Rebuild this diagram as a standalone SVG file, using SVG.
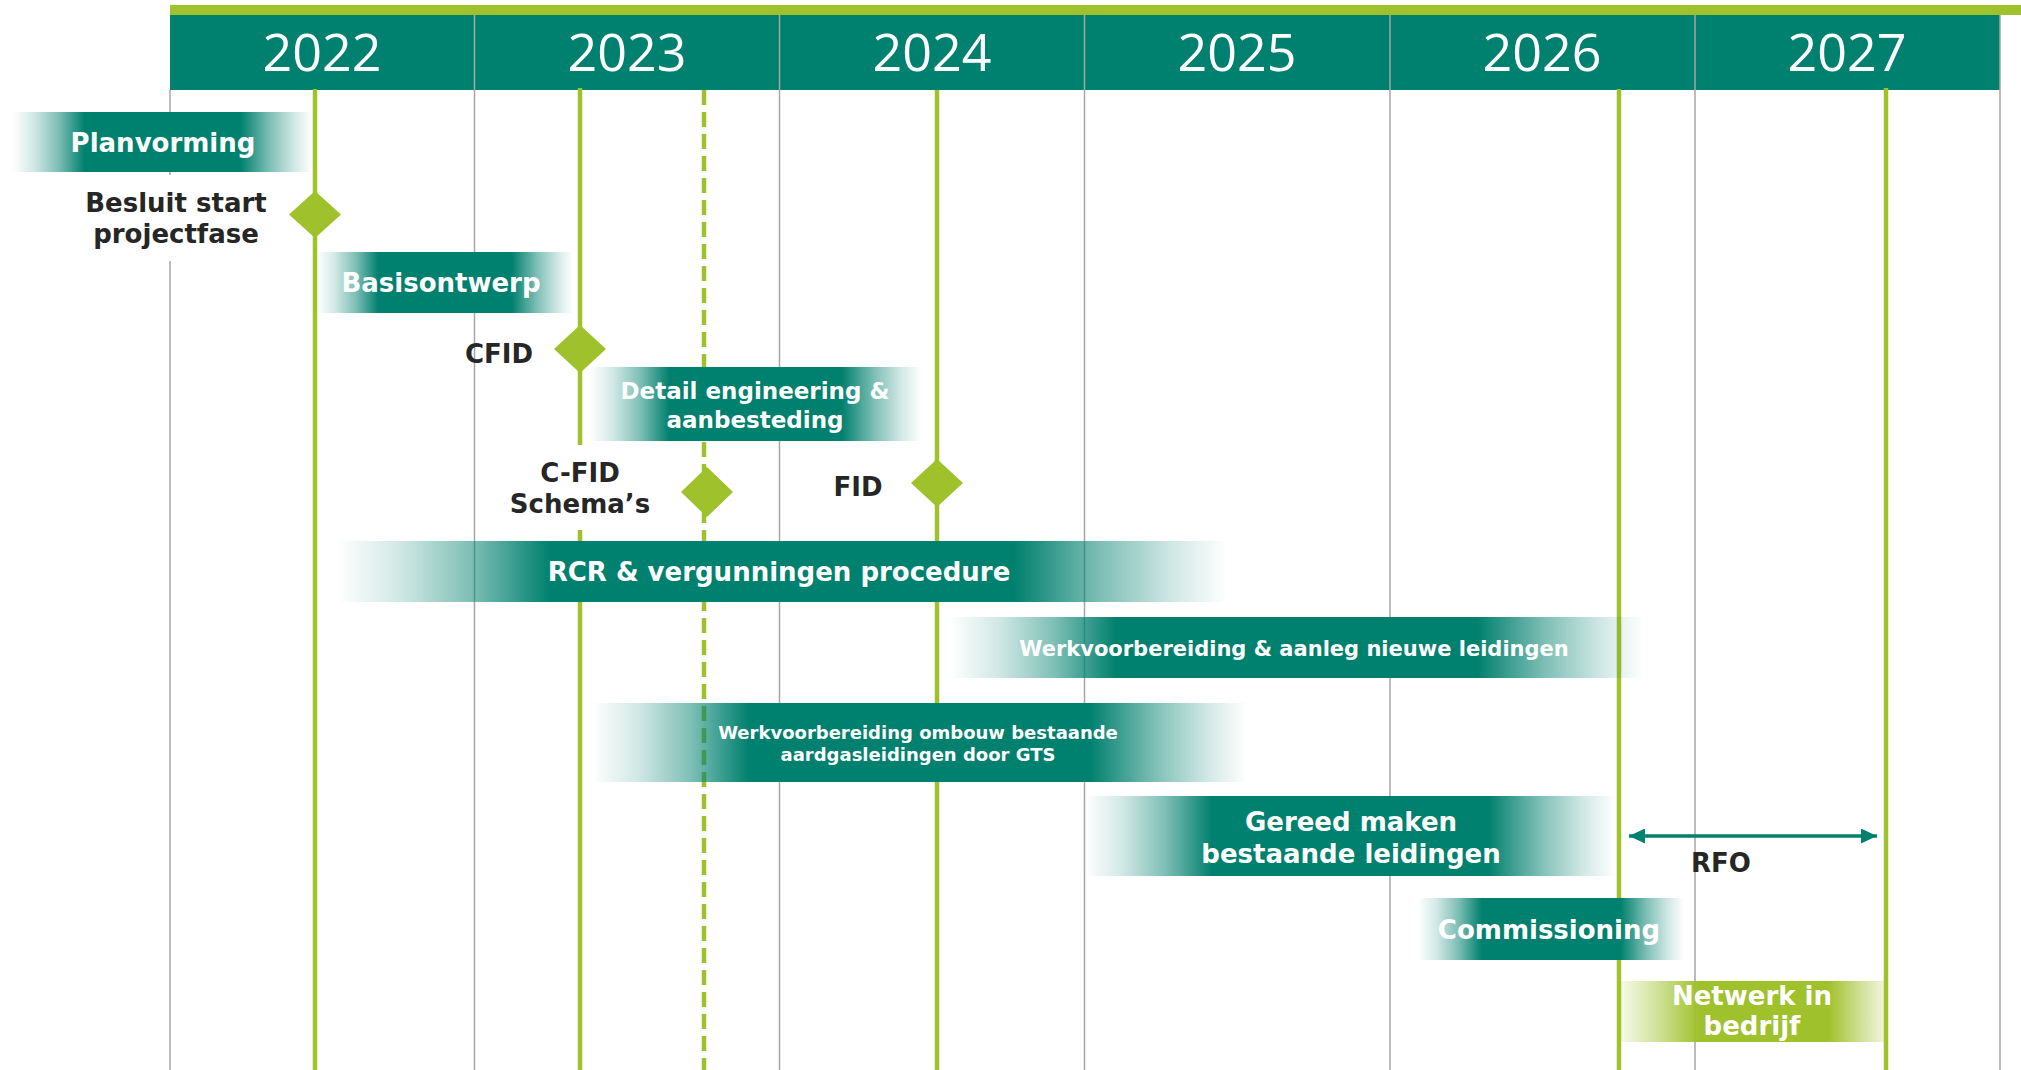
<svg xmlns="http://www.w3.org/2000/svg" width="2021" height="1070" viewBox="0 0 2021 1070">
<style>
.grid{stroke:#A6A6A6;stroke-width:1.5}
.ms{stroke:#9FC12B;stroke-width:4.5}
.dash{stroke-dasharray:15 7}
.year{font-family:"Open Sans","Noto Sans",sans-serif;font-size:52px;fill:#fff;text-anchor:middle}
.lbl{font-family:"DejaVu Sans","Verdana",sans-serif;font-weight:bold;font-size:26px;fill:#262626;text-anchor:middle}
.bt{font-family:"DejaVu Sans","Verdana",sans-serif;font-weight:bold;font-size:26px;fill:#fff;text-anchor:middle}
.dia{fill:#9FC12B}
.bar{fill:url(#tealFade)}
</style>
<defs>
<linearGradient id="tealFade" x1="0" y1="0" x2="1" y2="0">
<stop offset="0" stop-color="#00806E" stop-opacity="0"/>
<stop offset="0.07" stop-color="#00806E" stop-opacity="0.18"/>
<stop offset="0.15" stop-color="#00806E" stop-opacity="0.5"/>
<stop offset="0.24" stop-color="#00806E" stop-opacity="1"/>
<stop offset="0.76" stop-color="#00806E" stop-opacity="1"/>
<stop offset="0.86" stop-color="#00806E" stop-opacity="0.5"/>
<stop offset="0.94" stop-color="#00806E" stop-opacity="0.18"/>
<stop offset="1" stop-color="#00806E" stop-opacity="0"/>
</linearGradient>
<linearGradient id="greenFade" x1="0" y1="0" x2="1" y2="0">
<stop offset="0" stop-color="#9FC12B" stop-opacity="0.08"/>
<stop offset="0.15" stop-color="#9FC12B" stop-opacity="0.5"/>
<stop offset="0.3" stop-color="#9FC12B" stop-opacity="1"/>
<stop offset="0.78" stop-color="#9FC12B" stop-opacity="1"/>
<stop offset="0.9" stop-color="#9FC12B" stop-opacity="0.5"/>
<stop offset="1" stop-color="#9FC12B" stop-opacity="0.12"/>
</linearGradient>
<marker id="ah" viewBox="0 0 16 15" refX="16" refY="7.5" markerWidth="16" markerHeight="15" markerUnits="userSpaceOnUse" orient="auto-start-reverse">
<path d="M0,0 L16,7.5 L0,15 z" fill="#00806E"/>
</marker>
</defs>
<rect width="2021" height="1070" fill="#fff"/>

<g id="header">
<rect x="170" y="5" width="1851" height="10" fill="#9FC12B"/>
<rect x="170" y="15" width="1830" height="75" fill="#00806E"/>
<text class="year" x="322" y="71">2022</text>
<text class="year" x="627" y="71">2023</text>
<text class="year" x="932" y="71">2024</text>
<text class="year" x="1237" y="71">2025</text>
<text class="year" x="1542" y="71">2026</text>
<text class="year" x="1847" y="71">2027</text>
</g>

<g id="gridlines">
<line class="grid" x1="170" y1="90" x2="170" y2="1070"/>
<line class="grid" x1="474.5" y1="15" x2="474.5" y2="1070"/>
<line class="grid" x1="779.5" y1="15" x2="779.5" y2="1070"/>
<line class="grid" x1="1084.5" y1="15" x2="1084.5" y2="1070"/>
<line class="grid" x1="1390" y1="15" x2="1390" y2="1070"/>
<line class="grid" x1="1695" y1="15" x2="1695" y2="1070"/>
<line class="grid" x1="2000" y1="15" x2="2000" y2="1070"/>
</g>

<g id="milestone-lines">
<line class="ms" x1="315" y1="89" x2="315" y2="1070"/>
<line class="ms" x1="580" y1="88" x2="580" y2="1070"/>
<line class="ms dash" x1="704" y1="90" x2="704" y2="1070"/>
<line class="ms" x1="937" y1="90" x2="937" y2="1070"/>
<line class="ms" x1="1619" y1="89" x2="1619" y2="1070"/>
<line class="ms" x1="1886" y1="88" x2="1886" y2="1070"/>
</g>

<g id="label-backgrounds" fill="#fff">
<rect x="80" y="175" width="195" height="86"/>
<rect x="505" y="445" width="150" height="85"/>
</g>

<g id="planvorming">
<rect class="bar" x="13" y="112" width="299" height="60"/>
<text class="bt" x="163" y="152">Planvorming</text>
</g>
<g id="basisontwerp">
<rect class="bar" x="317" y="252" width="256" height="61"/>
<text class="bt" x="441" y="292">Basisontwerp</text>
</g>
<g id="detail-engineering">
<rect class="bar" x="590" y="367" width="331" height="74"/>
<text class="bt" style="font-size:23px" x="755" y="399">Detail engineering &amp;</text>
<text class="bt" style="font-size:23px" x="755" y="428">aanbesteding</text>
</g>
<g id="rcr">
<rect class="bar" x="337" y="541" width="890" height="61"/>
<text class="bt" x="779" y="581">RCR &amp; vergunningen procedure</text>
</g>
<g id="werkvoorbereiding-aanleg">
<rect class="bar" x="950" y="617" width="693" height="61"/>
<text class="bt" style="font-size:21px" x="1294" y="656">Werkvoorbereiding &amp; aanleg nieuwe leidingen</text>
</g>
<g id="werkvoorbereiding-ombouw">
<rect class="bar" x="592" y="703" width="655" height="79"/>
<text class="bt" style="font-size:18px" x="918" y="739">Werkvoorbereiding ombouw bestaande</text>
<text class="bt" style="font-size:18px" x="918" y="761">aardgasleidingen door GTS</text>
</g>
<g id="gereed-maken">
<rect class="bar" x="1085" y="796" width="530" height="80"/>
<text class="bt" x="1351" y="831">Gereed maken</text>
<text class="bt" x="1351" y="863">bestaande leidingen</text>
</g>
<g id="commissioning">
<rect class="bar" x="1418" y="898" width="266" height="62"/>
<text class="bt" x="1549" y="939">Commissioning</text>
</g>
<g id="netwerk-in-bedrijf">
<rect x="1619" y="981" width="268" height="61" fill="url(#greenFade)"/>
<text class="bt" x="1752" y="1005">Netwerk in</text>
<text class="bt" x="1752" y="1035">bedrijf</text>
</g>

<g id="besluit-start">
<path class="dia" d="M315,191 L341,214.5 L315,238 L289,214.5 z"/>
<text class="lbl" x="176" y="212">Besluit start</text>
<text class="lbl" x="176" y="243">projectfase</text>
</g>
<g id="cfid">
<path class="dia" d="M580,325 L606,349 L580,373 L554,349 z"/>
<text class="lbl" x="499" y="363">CFID</text>
</g>
<g id="c-fid-schemas">
<path class="dia" d="M707,467 L733,492 L707,517 L681,492 z"/>
<text class="lbl" x="580" y="482">C-FID</text>
<text class="lbl" x="580" y="513">Schema’s</text>
</g>
<g id="fid">
<path class="dia" d="M937,459 L963,483 L937,507 L911,483 z"/>
<text class="lbl" x="858" y="496">FID</text>
</g>

<g id="connectors">
<line x1="1629" y1="836" x2="1877" y2="836" stroke="#00806E" stroke-width="3.5" marker-start="url(#ah)" marker-end="url(#ah)"/>
</g>
<g id="rfo">
<text class="lbl" x="1721" y="872">RFO</text>
</g>
</svg>
